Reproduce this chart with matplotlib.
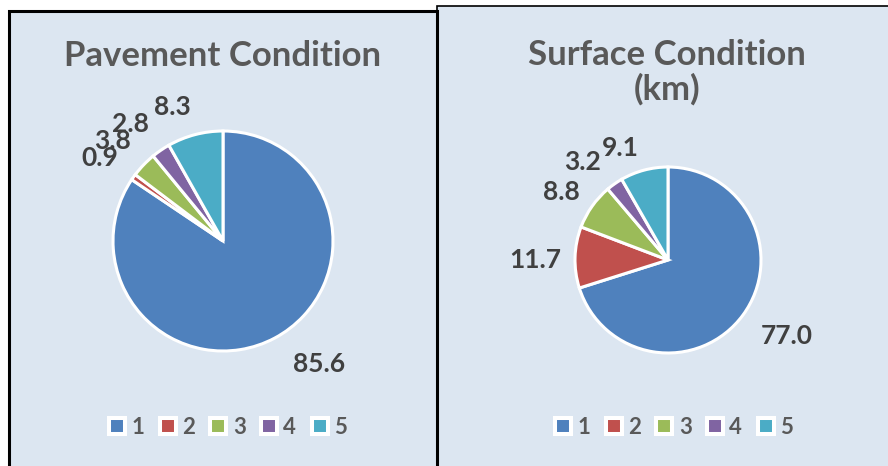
import numpy as np
import matplotlib
matplotlib.use("Agg")
import matplotlib.pyplot as plt
from matplotlib.lines import Line2D
from matplotlib.patches import Rectangle

# data
categories = ["1", "2", "3", "4", "5"]
pavement = [85.6, 0.9, 3.8, 2.8, 8.3]
surface = [77.0, 11.7, 8.8, 3.2, 9.1]
pavement_labels = ["85.6", "0.9", "3.8", "2.8", "8.3"]
surface_labels = ["77.0", "11.7", "8.8", "3.2", "9.1"]

colors = ["#4F81BD", "#C0504D", "#9BBB59", "#8064A2", "#4BACC6"]
bg = "#DCE6F1"
W, H = 888, 466

plt.rcParams['font.family'] = ['Lato', 'DejaVu Sans']

fig = plt.figure(figsize=(W / 100, H / 100), dpi=100)
fig.patch.set_facecolor("white")

# panel backgrounds / borders (pixel coords -> figure fraction)
def fx(x):
    return x / W

def fy(y):
    return 1 - y / H

fig.patches.append(Rectangle((fx(437), fy(480)), fx(470), fy(6) - fy(480),
                             transform=fig.transFigure, facecolor=bg,
                             edgecolor="black", linewidth=1.2, zorder=-3))
fig.patches.append(Rectangle((fx(8.5), fy(480)), fx(428), fy(10.5) - fy(480),
                             transform=fig.transFigure, facecolor=bg,
                             edgecolor="black", linewidth=2.2, zorder=-2))


def draw_pie(vals, labs, cx, cy, R, label_pos):
    ax = fig.add_axes([fx(cx - R), fy(cy + R), 2 * R / W, 2 * R / H])
    wedges, _ = ax.pie(vals, colors=colors, startangle=90, counterclock=False,
                       radius=1, wedgeprops=dict(edgecolor="white", linewidth=2.2))
    ax.set_xlim(-1, 1)
    ax.set_ylim(-1, 1)
    ax.axis("off")
    for w, lab, (dang, dist) in zip(wedges, labs, label_pos):
        mid = np.deg2rad((w.theta1 + w.theta2) / 2 + dang)
        ax.text(dist * np.cos(mid), dist * np.sin(mid), lab, ha="center",
                va="center", fontsize=19, fontweight="bold", color="#404040",
                clip_on=False)
    return ax


# (angle shift in degrees, distance in radii) for each data label
left_pos = [(10, 1.42), (1.5, 1.35), (1.7, 1.36), (4, 1.36), (6, 1.30)]
right_pos = [(3.5, 1.52), (1.6, 1.43), (2.6, 1.36), (6, 1.40), (8, 1.31)]

draw_pie(pavement, pavement_labels, 223, 241, 110, left_pos)
draw_pie(surface, surface_labels, 668, 260, 93, right_pos)

fig.text(fx(223), fy(66), "Pavement Condition", ha="center", va="baseline",
         fontsize=25, fontweight="bold", color="#595959")
fig.text(fx(667), fy(100), "Surface Condition\n(km)", ha="center", va="baseline",
         fontsize=25, fontweight="bold", color="#595959", linespacing=1.1,
         multialignment="center")

handles = [Line2D([], [], marker="s", linestyle="none", markersize=11.5,
                  markerfacecolor=c, markeredgecolor="white",
                  markeredgewidth=2.9) for c in colors]
for cx in (227, 673):
    fig.legend(handles, categories, loc="center",
               bbox_to_anchor=(fx(cx), fy(427)), ncol=5, frameon=False,
               prop=dict(family=["Lato", "DejaVu Sans"], weight="bold", size=16),
               labelcolor="#595959", handlelength=0.9, handletextpad=0.2,
               columnspacing=0.6, borderpad=0, borderaxespad=0)

fig.savefig("out.png", dpi=100, facecolor=fig.get_facecolor())
